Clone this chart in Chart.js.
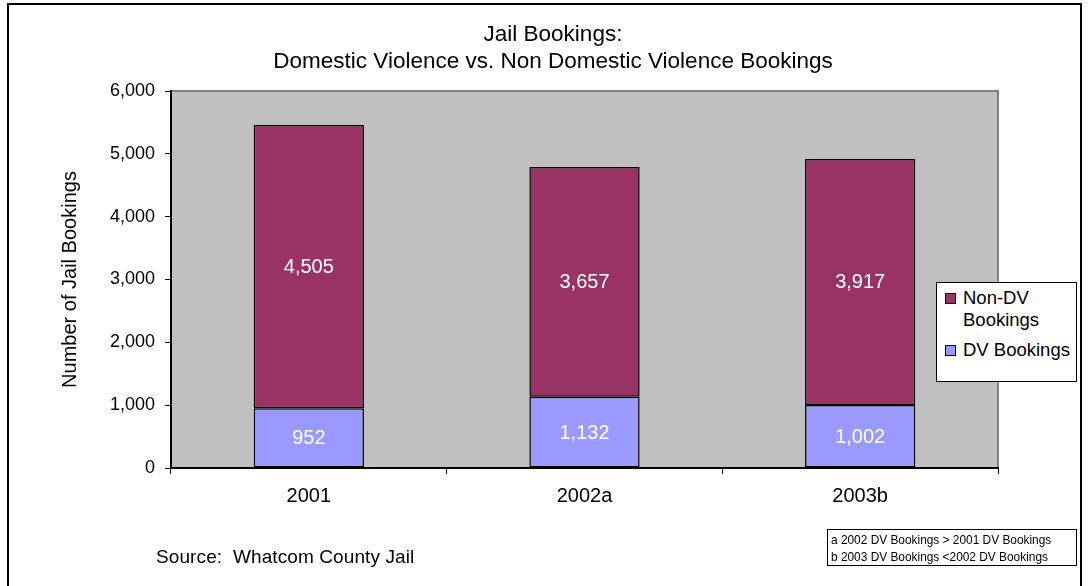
<!DOCTYPE html>
<html>
<head>
<meta charset="utf-8">
<title>Jail Bookings</title>
<script src="https://cdn.jsdelivr.net/npm/chart.js@4/dist/chart.umd.min.js"></script>
<style>
  html, body { margin: 0; padding: 0; background: #fff; }
  body { font-family: "Liberation Sans", Arial, sans-serif; color: #000; }
  #wrap { position: relative; width: 1089px; height: 586px; overflow: hidden; }
  #frame { position: absolute; left: 7px; top: 3px; width: 1071px; height: 600px; border: 2px solid #000; }
  #chart { position: absolute; left: 0; top: 0; }
  #title { position: absolute; left: 253px; top: 20px; width: 600px; text-align: center; font-size: 22.5px; line-height: 27px; }
  #legend { position: absolute; left: 936px; top: 282px; width: 139px; height: 98px; border: 1px solid #000; background: #fff; font-size: 18.5px; line-height: 22px; }
  #legend .item { position: absolute; left: 8px; }
  #legend .swatch { position: absolute; left: 0; top: 6px; width: 9px; height: 9px; border: 1px solid #000; }
  #legend .text { position: absolute; left: 18px; top: 0; white-space: nowrap; }
  #source { position: absolute; left: 156px; top: 546px; font-size: 19px; letter-spacing: 0.1px; white-space: pre; }
  #notes { position: absolute; left: 827px; top: 529px; width: 250px; height: 37px; border: 1px solid #000; box-sizing: border-box; }
  #notes .lines { position: absolute; left: 3px; top: 1px; font-size: 13.5px; line-height: 17px; white-space: nowrap; transform: scaleX(0.88); transform-origin: 0 0; }
</style>
</head>
<body>
<div id="wrap">
  <div id="frame"></div>
  <canvas id="chart" width="1089" height="586"></canvas>
  <div id="title"></div>
  <div id="legend"></div>
  <div id="source"></div>
  <div id="notes"><div class="lines"></div></div>
</div>
<script>
const years = ['2001', '2002a', '2003b'];
const dvBookings = [952, 1132, 1002];
const nonDvBookings = [4505, 3657, 3917];
const yMin = 0;
const yMax = 6000;
const yStep = 1000;

const titleLines = ['Jail Bookings:', 'Domestic Violence vs. Non Domestic Violence Bookings'];
const sourceText = 'Source:  Whatcom County Jail';
const footnotes = ['a 2002 DV Bookings > 2001 DV Bookings', 'b 2003 DV Bookings <2002 DV Bookings'];

const fontFamily = '"Liberation Sans", Arial, sans-serif';
const fmt = v => Number(v).toLocaleString('en-US');

// gray plot area with a darker top/right edge
const plotArea = {
  id: 'plotArea',
  beforeDraw(chart) {
    const { ctx, chartArea: a } = chart;
    ctx.save();
    ctx.fillStyle = '#C0C0C0';
    ctx.fillRect(a.left, a.top, a.right - a.left, a.bottom - a.top);
    ctx.strokeStyle = '#808080';
    ctx.lineWidth = 2;
    ctx.beginPath();
    ctx.moveTo(a.left, a.top);
    ctx.lineTo(a.right, a.top);
    ctx.lineTo(a.right, a.bottom);
    ctx.stroke();
    ctx.restore();
  }
};

// white value labels in the middle of each segment
const segmentLabels = {
  id: 'segmentLabels',
  afterDatasetsDraw(chart) {
    const { ctx } = chart;
    ctx.save();
    ctx.fillStyle = '#fff';
    ctx.font = '20px ' + fontFamily;
    ctx.textAlign = 'center';
    ctx.textBaseline = 'middle';
    chart.data.datasets.forEach((ds, i) => {
      chart.getDatasetMeta(i).data.forEach((bar, j) => {
        const { x, y, base } = bar.getProps(['x', 'y', 'base'], true);
        ctx.fillText(fmt(ds.data[j]), x, (y + base) / 2 + 1);
      });
    });
    ctx.restore();
  }
};

const chart = new Chart(document.getElementById('chart'), {
  type: 'bar',
  data: {
    labels: years,
    datasets: [
      {
        label: 'DV Bookings',
        data: dvBookings,
        backgroundColor: '#9999FF',
        borderColor: '#000',
        borderWidth: 1.5,
        borderSkipped: false,
      },
      {
        label: 'Non-DV Bookings',
        legendLines: ['Non-DV', 'Bookings'],
        data: nonDvBookings,
        backgroundColor: '#993366',
        borderColor: '#000',
        borderWidth: 1.5,
        borderSkipped: false,
      },
    ],
  },
  options: {
    responsive: false,
    animation: false,
    layout: { padding: { top: 91, right: 91, bottom: 0, left: 0 } },
    datasets: { bar: { categoryPercentage: 1, barPercentage: 0.4 } },
    plugins: {
      legend: { display: false },
      tooltip: { enabled: false },
    },
    scales: {
      x: {
        stacked: true,
        afterFit: s => { s.height = 118; },
        grid: { offset: true, drawOnChartArea: false, tickLength: 6, tickColor: '#000', lineWidth: 1 },
        border: { color: '#000', width: 2 },
        ticks: { color: '#000', padding: 10, font: { family: fontFamily, size: 20 } },
      },
      y: {
        stacked: true,
        min: yMin,
        max: yMax,
        afterFit: s => { s.width = 171; },
        grid: { drawOnChartArea: false, tickLength: 6, tickColor: '#000', lineWidth: 1 },
        border: { color: '#000', width: 2 },
        ticks: {
          stepSize: yStep,
          color: '#000',
          padding: 10,
          font: { family: fontFamily, size: 18 },
          callback: v => fmt(v),
        },
        title: {
          display: true,
          text: 'Number of Jail Bookings',
          color: '#000',
          font: { family: fontFamily, size: 20 },
          padding: { top: 58, bottom: 0 },
        },
      },
    },
  },
  plugins: [plotArea, segmentLabels],
});

document.getElementById('title').innerHTML = titleLines.map(t => '<div>' + t + '</div>').join('');

// legend listed top stack first
const legendEl = document.getElementById('legend');
let itemTop = 4;
chart.data.datasets.slice().reverse().forEach(ds => {
  const lines = ds.legendLines || [ds.label];
  const item = document.createElement('div');
  item.className = 'item';
  item.style.top = itemTop + 'px';
  item.innerHTML = '<span class="swatch" style="background:' + ds.backgroundColor + '"></span>' +
    '<span class="text">' + lines.join('<br>') + '</span>';
  legendEl.appendChild(item);
  itemTop += lines.length * 22 + 8;
});

document.getElementById('source').textContent = sourceText;
document.querySelector('#notes .lines').innerHTML = footnotes.map(t => '<div>' + t + '</div>').join('');
</script>
</body>
</html>
